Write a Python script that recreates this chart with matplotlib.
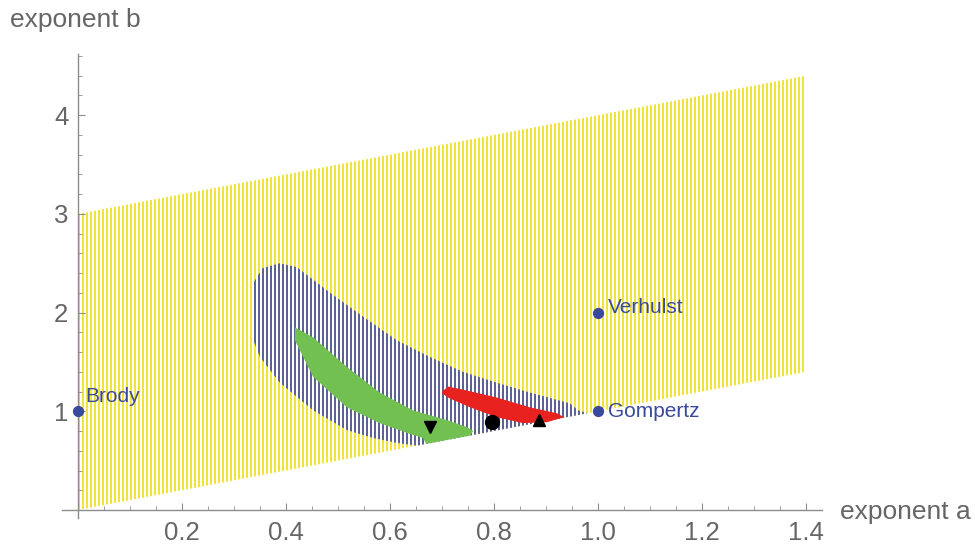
import matplotlib
matplotlib.use('Agg')
import matplotlib.pyplot as plt
from matplotlib.patches import Polygon
import numpy as np

plt.rcParams['font.family'] = ['Liberation Sans', 'DejaVu Sans']

# admissible (a, b) region: a < b < a + 3, drawn as a hatched parallelogram
region_a = [0.0, 1.4, 1.4, 0.0]
region_b = [0.0, 1.4, 4.4, 3.0]

# wide confidence region (hatched blue)
blue_a = [0.388, 0.421, 0.485, 0.548, 0.613, 0.677, 0.740, 0.805, 0.869, 0.946,
          0.962, 0.980, 0.800, 0.652, 0.613, 0.567, 0.517, 0.452, 0.388, 0.350,
          0.337, 0.337, 0.355]
blue_b = [2.50, 2.46, 2.20, 1.96, 1.72, 1.55, 1.40, 1.29, 1.19, 1.08,
          1.01, 0.98, 0.80, 0.652, 0.68, 0.73, 0.81, 1.01, 1.29, 1.55,
          1.72, 2.30, 2.45]

# narrower region (green)
green_a = [0.417, 0.452, 0.517, 0.580, 0.644, 0.710, 0.748, 0.760, 0.754,
           0.670, 0.663, 0.633, 0.580, 0.517, 0.452, 0.417]
green_b = [1.85, 1.75, 1.45, 1.19, 1.01, 0.91, 0.84, 0.80, 0.754,
           0.670, 0.73, 0.78, 0.88, 1.04, 1.35, 1.72]

# bootstrap estimates (red)
red_a = [0.700, 0.712, 0.740, 0.805, 0.869, 0.921, 0.935, 0.902, 0.856, 0.805,
         0.754, 0.715, 0.700]
red_b = [1.20, 1.25, 1.22, 1.14, 1.04, 0.98, 0.94, 0.89, 0.88, 0.94,
         1.04, 1.13, 1.18]

# named growth models
model_names = ['Brody', 'Verhulst', 'Gompertz']
model_a = [0.0, 1.0, 1.0]
model_b = [1.0, 2.0, 1.0]
label_offsets = [(5, 11), (7, 4), (7, 0)]

# point estimates
est_markers = ['v', 'o', '^']
est_a = [0.677, 0.796, 0.887]
est_b = [0.84, 0.89, 0.91]

xticks = [0.2, 0.4, 0.6, 0.8, 1.0, 1.2, 1.4]
yticks = [1, 2, 3, 4]

gray = '#666666'
fig = plt.figure(figsize=(9.75, 5.46), dpi=100)
ax = fig.add_axes([0.064, 0.0515, 0.7787, 0.8496])
ax.set_xlim(-0.03, 1.43)
ax.set_ylim(-0.08, 4.62)

# vertical hatch lines, 4 px apart (520 px per unit of a)
step = 1 / 130
hatch_x = np.arange(1 / 520, 1.4 + 1e-6, step)


def hatch(verts, color, zorder):
    poly = Polygon(verts, closed=True, facecolor='none', edgecolor='none')
    ax.add_patch(poly)
    lc = ax.vlines(hatch_x, -0.1, 4.7, colors=color, linewidth=1.44,
                   antialiased=False, zorder=zorder)
    lc.set_clip_path(poly)


hatch(list(zip(region_a, region_b)), '#f2e33a', 1)
hatch(list(zip(blue_a, blue_b)), '#5b6394', 2)

ax.fill(green_a, green_b, color='#72c052', lw=0, zorder=3)
ax.fill(red_a, red_b, color='#e8231f', lw=0, zorder=4)

ax.scatter(model_a, model_b, s=50, color='#3a4a9a', zorder=6, clip_on=False)
for name, x, y, off in zip(model_names, model_a, model_b, label_offsets):
    ax.annotate(name, (x, y), xytext=off, textcoords='offset points',
                color='#3a4a9a', fontsize=15, va='center', ha='left', zorder=7)

for m, x, y in zip(est_markers, est_a, est_b):
    ax.plot(x, y, m, color='black', markersize=10 if m == 'o' else 9, zorder=8)

ax.spines['top'].set_visible(False)
ax.spines['right'].set_visible(False)
ax.spines['left'].set_position(('data', 0))
ax.spines['bottom'].set_position(('data', 0))
for s in ('left', 'bottom'):
    ax.spines[s].set_color('#8c8c8c')
    ax.spines[s].set_linewidth(1.0)

ax.set_xticks(xticks)
ax.set_xticklabels([f'{v:.1f}' for v in xticks])
ax.set_yticks(yticks)
ax.set_xticks(np.arange(0.05, 1.42, 0.05), minor=True)
ax.set_yticks(np.arange(0.2, 4.61, 0.2), minor=True)
ax.tick_params(axis='both', which='major', direction='in', length=5, width=0.8,
               color='#8c8c8c', labelcolor=gray, labelsize=18.5)
ax.tick_params(axis='both', which='minor', direction='in', length=3, width=0.6,
               color='#8c8c8c')
ax.tick_params(axis='x', which='major', pad=8)
ax.tick_params(axis='y', which='major', pad=7)

fig.text(10 / 975, 1 - 20 / 546, 'exponent b', color=gray, fontsize=19,
         ha='left', va='center')
fig.text(840 / 975, 1 - 512 / 546, 'exponent a', color=gray, fontsize=19,
         ha='left', va='center')

fig.savefig('out.png', dpi=100)
